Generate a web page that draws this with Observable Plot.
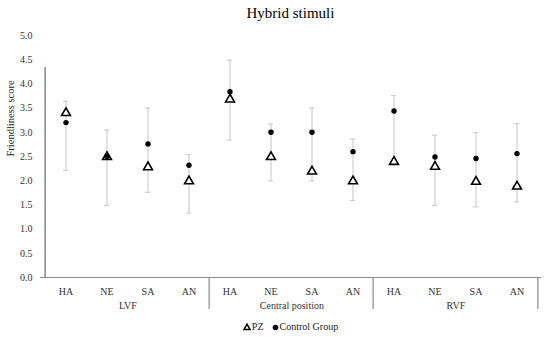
<!DOCTYPE html>
<html>
<head>
<meta charset="utf-8">
<script src="https://cdn.jsdelivr.net/npm/d3@7"></script>
<script src="https://cdn.jsdelivr.net/npm/@observablehq/plot@0.6"></script>
<style>
  html, body { margin: 0; padding: 0; background: #fff; }
  body { width: 550px; height: 337px; overflow: hidden; font-family: "Liberation Serif", "Times New Roman", serif; }
  #title { height: 25px; line-height: 26px; text-align: center; padding-left: 31px; box-sizing: border-box; width: 550px; font-size: 15px; color: #000; }
  #legend { height: 20px; text-align: center; padding-left: 31px; box-sizing: border-box; width: 550px; font-size: 10px; color: #222; line-height: 20px; }
  #legend span { margin: 0 4px; }
  #legend svg { vertical-align: -1px; margin-right: 1px; }
</style>
</head>
<body>
<div id="title">Hybrid stimuli</div>
<div id="chart"></div>
<div id="legend"></div>
<script>
const groups = ["LVF", "Central position", "RVF"];
const emotions = ["HA", "NE", "SA", "AN"];
const pz      = [3.40, 2.49, 2.28, 1.99, 3.68, 2.49, 2.19, 1.99, 2.39, 2.29, 1.98, 1.88];
const control = [3.20, 2.50, 2.76, 2.32, 3.84, 3.00, 3.00, 2.60, 3.44, 2.49, 2.46, 2.56];
const errLow  = [2.21, 1.49, 1.76, 1.33, 2.84, 2.00, 2.00, 1.59, 2.40, 1.49, 1.46, 1.56];
const errHigh = [3.64, 3.05, 3.50, 2.54, 4.49, 3.17, 3.50, 2.86, 3.76, 2.94, 2.99, 3.18];
const yTicks = [0, 0.5, 1, 1.5, 2, 2.5, 3, 3.5, 4, 4.5, 5];
const seriesNames = ["PZ", "Control Group"];

const W = 550, H = 292, ML = 40, MR = 9, MT = 10, MB = 40;
const keys = groups.flatMap(g => emotions.map(e => g + "|" + e));
const bw = (W - ML - MR) / keys.length;
const rows = keys.map((k, i) => ({key: k, group: k.split("|")[0], emotion: k.split("|")[1], pz: pz[i], control: control[i], lo: errLow[i], hi: errHigh[i]}));
const groupStarts = groups.map(g => g + "|" + emotions[0]);
const groupMids = groups.map(g => ({g, key: g + "|" + emotions[1]}));
const lastKey = keys[keys.length - 1];

const chart = Plot.plot({
  width: W, height: H,
  marginLeft: ML, marginRight: MR, marginTop: MT, marginBottom: MB,
  style: {fontFamily: "'Liberation Serif', 'Times New Roman', serif", fontSize: "10px", color: "#333", background: "#fff", overflow: "visible"},
  x: {domain: keys, padding: 0},
  y: {domain: [0, 5]},
  marks: [
    Plot.axisY({ticks: yTicks, tickFormat: d => d.toFixed(1), tickSize: 0, tickPadding: 8, label: null, fontSize: 10}),
    Plot.text(["Friendliness score"], {frameAnchor: "left", rotate: -90, dx: -30, fontSize: 10.5, fill: "#222"}),
    Plot.axisX({tickSize: 0, tickPadding: 10, tickFormat: d => d.split("|")[1], label: null, fontSize: 10}),
    Plot.text(groupMids, {x: "key", y: () => 0, text: "g", dx: bw / 2, dy: 28, fontSize: 10, fill: "#333"}),
    // error bars
    Plot.ruleX(rows, {x: "key", y1: "lo", y2: "hi", stroke: "#cfcfcf", strokeWidth: 1.2}),
    Plot.tickY(rows, {x: "key", y: "lo", stroke: "#cfcfcf", strokeWidth: 1.2, insetLeft: bw / 2 - 3, insetRight: bw / 2 - 3}),
    Plot.tickY(rows, {x: "key", y: "hi", stroke: "#cfcfcf", strokeWidth: 1.2, insetLeft: bw / 2 - 3, insetRight: bw / 2 - 3}),
    // baseline and dividers
    Plot.ruleY([0], {stroke: "#8a8a8a", strokeWidth: 1.2}),
    Plot.ruleX([groupStarts[0]], {x: d => d, y1: () => 0, y2: () => 5, dx: -bw / 2, insetBottom: -32, stroke: "#6a6a6a", strokeWidth: 1.2}),
    Plot.ruleX(groupStarts.slice(1), {x: d => d, y1: () => 0, y2: () => 0, dx: -bw / 2, insetBottom: -32, stroke: "#8a8a8a", strokeWidth: 1.2}),
    Plot.ruleX([lastKey], {x: d => d, y1: () => 0, y2: () => 0, dx: bw / 2, insetBottom: -32, stroke: "#8a8a8a", strokeWidth: 1.2}),
    // series
    Plot.dot(rows, {x: "key", y: "pz", symbol: "triangle", r: 3.3, fill: "#fff", stroke: "#000", strokeWidth: 1.6}),
    Plot.dot(rows, {x: "key", y: "control", symbol: "circle", r: 2.7, fill: "#000", stroke: "none"})
  ]
});
document.getElementById("chart").appendChild(chart);

const legend = document.getElementById("legend");
legend.innerHTML =
  `<span><svg width="8" height="8" viewBox="-4 -4 8 8"><path d="M0,-2.8L3,2.6L-3,2.6Z" fill="#fff" stroke="#000" stroke-width="1.5"/></svg>${seriesNames[0]}</span>` +
  `<span><svg width="7" height="7" viewBox="-3.5 -3.5 7 7"><circle r="2.8" fill="#000"/></svg>${seriesNames[1]}</span>`;
</script>
</body>
</html>
